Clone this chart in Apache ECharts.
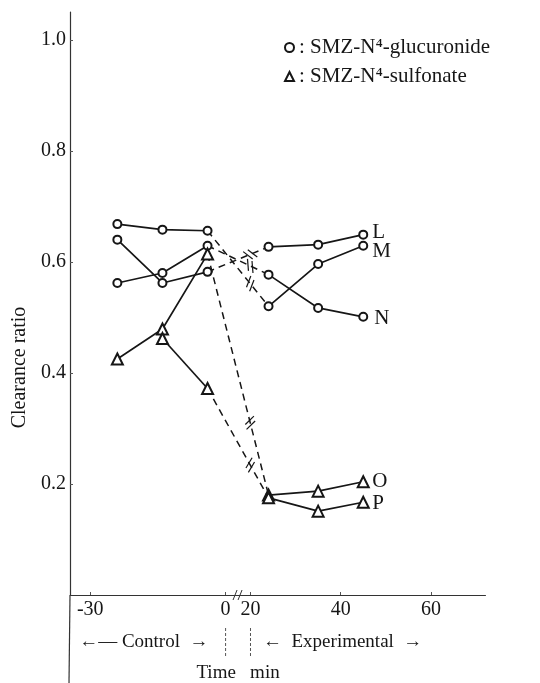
<!DOCTYPE html>
<html><head><meta charset="utf-8">
<script src="https://cdn.jsdelivr.net/npm/echarts@6/dist/echarts.min.js"></script>
<style>html,body{margin:0;padding:0;background:#fff}#c{width:540px;height:683px}</style>
</head><body><div id="c"></div>
<script>
// ---- data ----
const controlTimes = [-24, -14, -4];
const expTimes = [24, 35, 45];
const pControlTimes = [-14, -4];
const xTicks = [-30, 0, 20, 40, 60];
const yTicks = [0.2, 0.4, 0.6, 0.8, 1.0];
// SMZ-N4-glucuronide (circles)
const lControl = [0.640, 0.562, 0.582];
const lExp = [0.627, 0.631, 0.649];
const mControl = [0.668, 0.658, 0.656];
const mExp = [0.520, 0.596, 0.629];
const nControl = [0.562, 0.580, 0.629];
const nExp = [0.577, 0.517, 0.501];
// SMZ-N4-sulfonate (triangles)
const oControl = [0.425, 0.479, 0.614];
const oExp = [0.180, 0.187, 0.204];
const pControl = [0.462, 0.372];
const pExp = [0.175, 0.151, 0.167];
const GLUC = 'SMZ-N\u2074-glucuronide';
const SULF = 'SMZ-N\u2074-sulfonate';

const FONT = "'Liberation Serif','DejaVu Serif',serif";
const INK = '#161616';

function pts(times, vals) { return times.map((t, i) => [t, vals[i]]); }

const dogs = [
  { label: 'L', name: GLUC, sym: 'emptyCircle', size: 8, cT: controlTimes, c: lControl, e: lExp, off: [0, -2] },
  { label: 'M', name: GLUC, sym: 'emptyCircle', size: 8, cT: controlTimes, c: mControl, e: mExp, off: [0, 6] },
  { label: 'N', name: GLUC, sym: 'emptyCircle', size: 8, cT: controlTimes, c: nControl, e: nExp, off: [2, 2] },
  { label: 'O', name: SULF, sym: 'emptyTriangle', size: 11, cT: controlTimes, c: oControl, e: oExp, off: [0, 0] },
  { label: 'P', name: SULF, sym: 'emptyTriangle', size: 11, cT: pControlTimes, c: pControl, e: pExp, off: [0, 1] }
];

const series = [];
const connectors = [];
dogs.forEach(d => {
  const base = {
    type: 'line', name: d.name, symbol: d.sym, symbolSize: d.size,
    lineStyle: { color: INK, width: 1.7 }, itemStyle: { color: INK, borderWidth: 1 },
    animation: false, z: 3
  };
  const conn = [[d.cT[d.cT.length - 1], d.c[d.c.length - 1]], [expTimes[0], d.e[0]]];
  connectors.push(conn);
  series.push(Object.assign({}, base, { data: pts(d.cT, d.c) }));
  series.push({
    type: 'line', name: d.name, symbol: 'none', data: conn, animation: false, z: 2,
    lineStyle: { color: INK, width: 1.5, type: [7, 5] }
  });
  series.push(Object.assign({}, base, {
    data: pts(expTimes, d.e),
    endLabel: { show: true, formatter: d.label, fontFamily: FONT, fontSize: 21, color: INK, distance: 9, offset: d.off }
  }));
});

const chart = echarts.init(document.getElementById('c'), null, { renderer: 'canvas' });
const option = {
  backgroundColor: '#fff',
  animation: false,
  grid: { left: 70, right: 55, top: 12, bottom: 88, outerBoundsMode: 'none', containLabel: false },
  legend: {
    orient: 'vertical', left: 279, top: 32, itemGap: 8,
    itemWidth: 9, itemHeight: 9,
    data: [{ name: GLUC, icon: 'emptyCircle' }, { name: SULF, icon: 'emptyTriangle' }],
    formatter: ': {name}',
    textStyle: { fontFamily: FONT, fontSize: 21, color: INK },
    selectedMode: false
  },
  xAxis: {
    type: 'value', min: -34.5, max: 72,
    breaks: [{ start: 0, end: 20, gap: '6%' }],
    breakArea: { show: false },
    axisLine: { show: true, onZero: false, lineStyle: { color: '#333', width: 1 } },
    axisTick: { show: true, inside: true, length: 3, customValues: xTicks, lineStyle: { color: '#555' } },
    axisLabel: {
      customValues: xTicks, fontFamily: FONT, fontSize: 20, color: INK, margin: 5,
      formatter: v => (v < 0 ? '-' + Math.abs(v) : String(v))
    },
    splitLine: { show: false }
  },
  yAxis: {
    type: 'value', min: 0, max: 1.05,
    name: 'Clearance ratio', nameLocation: 'middle', nameGap: 39,
    nameTextStyle: { fontFamily: FONT, fontSize: 20, color: INK, padding: [0, 128, 0, 0] },
    axisLine: { show: true, onZero: false, lineStyle: { color: '#333', width: 1.2 } },
    axisTick: { show: true, inside: true, length: 3, customValues: yTicks, lineStyle: { color: '#555' } },
    axisLabel: {
      customValues: yTicks, fontFamily: FONT, fontSize: 20, color: INK, margin: 4,
      formatter: v => v.toFixed(1)
    },
    splitLine: { show: false }
  },
  series: series
};
chart.setOption(option);

// ---- decorations positioned through the chart's own scales ----
const g = [];
const px = (x, y) => chart.convertToPixel({ gridIndex: 0 }, [x, y]);
const axisY = px(0, 0)[1];
const p0 = px(0, 0)[0];
const p20 = px(20, 0)[0];
const pLeft = px(-34.5, 0)[0];
const p60 = px(60, 0)[0];
// y axis continues below the x axis
g.push({ type: 'line', shape: { x1: pLeft, y1: axisY, x2: pLeft - 1, y2: 683 }, style: { stroke: '#333', lineWidth: 1.2 } });
// x axis bridged across the break, with a break mark
g.push({ type: 'line', shape: { x1: p0 - 2, y1: axisY + 0.5, x2: p20 + 2, y2: axisY + 0.5 }, style: { stroke: '#333', lineWidth: 1 } });
const bx = (p0 + p20) / 2;
g.push({ type: 'line', shape: { x1: bx - 5, y1: axisY + 5, x2: bx - 1, y2: axisY - 5 }, style: { stroke: '#333', lineWidth: 1 } });
g.push({ type: 'line', shape: { x1: bx + 0, y1: axisY + 5, x2: bx + 4, y2: axisY - 5 }, style: { stroke: '#333', lineWidth: 1 } });
// break marks on dashed connectors
connectors.forEach(c => {
  const a = px(c[0][0], c[0][1]);
  const b = px(c[1][0], c[1][1]);
  const dx = b[0] - a[0], dy = b[1] - a[1];
  const len = Math.hypot(dx, dy);
  const ux = dx / len, uy = dy / len;
  const nx = -uy, ny = ux;
  const ang = Math.PI / 3;
  const sx = Math.cos(ang) * ux + Math.sin(ang) * nx;
  const sy = Math.cos(ang) * uy + Math.sin(ang) * ny;
  const t = 0.7;
  const cx = a[0] + dx * t, cy = a[1] + dy * t;
  [-2.5, 2.5].forEach(o => {
    const mx = cx + ux * o, my = cy + uy * o;
    g.push({ type: 'line', shape: { x1: mx - sx * 6, y1: my - sy * 6, x2: mx + sx * 6, y2: my + sy * 6 },
      style: { stroke: INK, lineWidth: 1.2 }, z: 10 });
  });
});
// phase row
const rowY = 642;
[p0, p20].forEach(x => g.push({ type: 'line', shape: { x1: x, y1: 628, x2: x, y2: 656 },
  style: { stroke: '#555', lineWidth: 1, lineDash: [3, 2] } }));
g.push({ type: 'text', x: (pLeft + p0) / 2 - 4, y: rowY, style: { text: '\u2190\u2014 Control  \u2192', font: "19px " + FONT, fill: INK, align: 'center', verticalAlign: 'middle' } });
g.push({ type: 'text', x: (p20 + p60) / 2 + 2, y: rowY, style: { text: '\u2190  Experimental  \u2192', font: "19px " + FONT, fill: INK, align: 'center', verticalAlign: 'middle' } });
g.push({ type: 'text', x: (p0 + p20) / 2, y: 673, style: { text: 'Time   min', font: "19px " + FONT, fill: INK, align: 'center', verticalAlign: 'middle' } });
chart.setOption({ graphic: g });
</script>
</body></html>
